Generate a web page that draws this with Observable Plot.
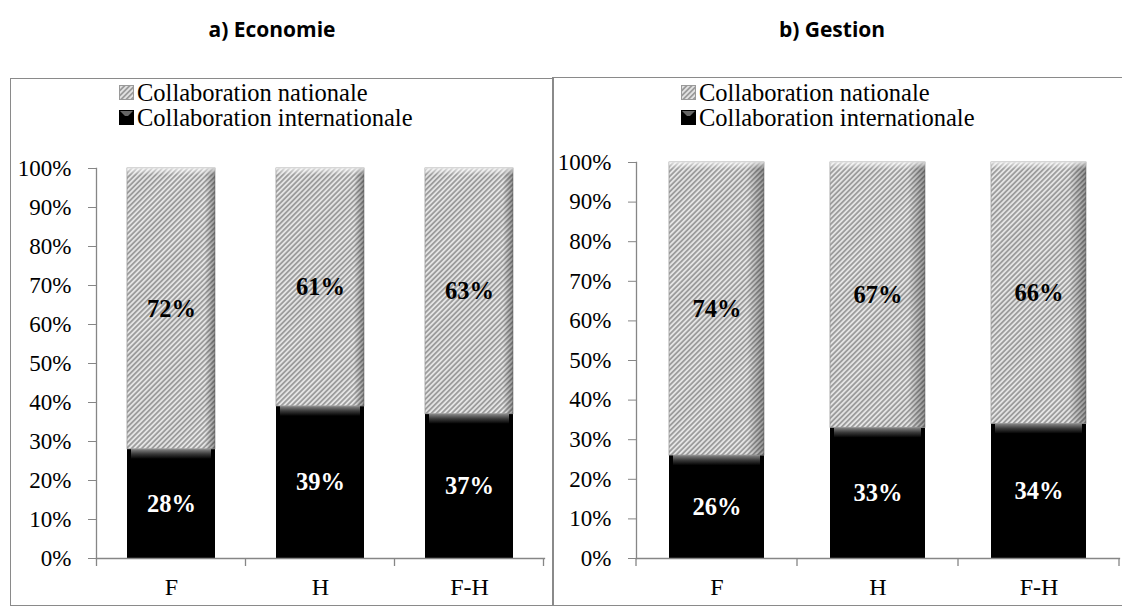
<!DOCTYPE html>
<html><head><meta charset="utf-8">
<script src="https://cdn.jsdelivr.net/npm/d3@7"></script>
<script src="https://cdn.jsdelivr.net/npm/@observablehq/plot@0.6"></script>
<style>
body{margin:0;width:1122px;height:608px;overflow:hidden;background:#fff;position:relative;font-family:"Liberation Serif","Times New Roman",serif;}
.title{position:absolute;top:15px;font-family:"Open Sans",sans-serif;font-weight:700;font-size:21px;line-height:28px;transform:translateX(-50%);white-space:nowrap;color:#000}
.panel{position:absolute;border:1.5px solid #8a8a8a;box-sizing:border-box;}
.legend{position:absolute;font-size:24.5px;line-height:25px;color:#000;white-space:nowrap}
.legend div{display:flex;align-items:center;height:25px}
.legend svg{margin-right:3px}
.chart{position:absolute}
</style></head><body>
<svg width="0" height="0" style="position:absolute">
  <defs>
    <pattern id="hatch" patternUnits="userSpaceOnUse" width="3.6" height="3.6" patternTransform="rotate(45)">
      <rect width="3.6" height="3.6" fill="#e4e4e4"></rect>
      <line x1="0.9" y1="0" x2="0.9" y2="3.6" stroke="#858585" stroke-width="1.35"></line>
    </pattern>
    <linearGradient id="bevelDark" x1="0" y1="0" x2="0" y2="1">
      <stop offset="0" stop-color="#8a8a8a"></stop>
      <stop offset="0.5" stop-color="#3a3a3a"></stop>
      <stop offset="1" stop-color="#000"></stop>
    </linearGradient>
    <linearGradient id="bevelLight" x1="0" y1="0" x2="0" y2="1">
      <stop offset="0" stop-color="#fff" stop-opacity="0.7"></stop>
      <stop offset="1" stop-color="#fff" stop-opacity="0"></stop>
    </linearGradient>
    <linearGradient id="shadeRight" x1="0" y1="0" x2="1" y2="0">
      <stop offset="0" stop-color="#000" stop-opacity="0"></stop>
      <stop offset="1" stop-color="#000" stop-opacity="0.35"></stop>
    </linearGradient>
  </defs>
</svg>
<div id="root"></div>
<script>
const categories = ["F", "H", "F-H"];
const ecoIntl = [28, 39, 37];
const ecoNat = [72, 61, 63];
const gesIntl = [26, 33, 34];
const gesNat = [74, 67, 66];
const yTicks = [0, 10, 20, 30, 40, 50, 60, 70, 80, 90, 100];
const seriesNames = ["Collaboration nationale", "Collaboration internationale"];
const titles = ["a) Economie", "b) Gestion"];

const root = document.getElementById("root");

function addTitle(text, cx) {
  const d = document.createElement("div");
  d.className = "title";
  d.style.left = cx + "px";
  d.textContent = text;
  root.appendChild(d);
}

function addPanel(l, t, w, h) {
  const d = document.createElement("div");
  d.className = "panel";
  Object.assign(d.style, {left: l + "px", top: t + "px", width: w + "px", height: h + "px"});
  root.appendChild(d);
}

function addLegend(l, t) {
  const lg = document.createElement("div");
  lg.className = "legend";
  lg.style.left = l + "px";
  lg.style.top = t + "px";
  const fills = ["url(#hatch)", "#000"];
  seriesNames.forEach((name, i) => {
    const row = document.createElement("div");
    row.innerHTML = `<svg width="15" height="15"><rect x="0.5" y="0.5" width="14" height="14" fill="${fills[i]}" stroke="${i ? "#000" : "#9a9a9a"}" stroke-width="1"></rect>${i ? '<path d="M1,1 L14,1 L9,6 L6,6 Z" fill="#666"></path>' : ''}</svg><span>${name}</span>`;
    lg.appendChild(row);
  });
  root.appendChild(lg);
}

function makeChart(intl, nat, o) {
  const rows = categories.map((c, i) => ({cat: c, intl: intl[i], nat: nat[i]}));
  const chart = Plot.plot({
    width: o.width,
    height: o.height,
    marginLeft: o.ml,
    marginRight: o.mr,
    marginTop: o.mt,
    marginBottom: o.mb,
    style: {fontFamily: '"Liberation Serif","Times New Roman",serif', fontSize: "23px", color: "#000", background: "transparent", overflow: "visible"},
    x: {domain: categories, paddingInner: 0.41, paddingOuter: 0.205, align: 0.5},
    y: {domain: [0, 100]},
    marks: [
      Plot.rectY(rows, {x: "cat", y1: 0, y2: "intl", fill: "#000"}),
      Plot.rectY(rows, {x: "cat", y1: d => d.intl - 2.6, y2: "intl", fill: "url(#bevelDark)", insetLeft: 4, insetRight: 4}),
      Plot.rectY(rows, {x: "cat", y1: "intl", y2: d => d.intl + d.nat, fill: "url(#hatch)", stroke: "#9a9a9a", strokeWidth: 0.8}),
      Plot.rectY(rows, {x: "cat", y1: "intl", y2: d => d.intl + d.nat, fill: "url(#shadeRight)", insetLeft: 78}),
      Plot.rectY(rows, {x: "cat", y1: d => d.intl + d.nat - 1.8, y2: d => d.intl + d.nat, fill: "url(#bevelLight)"}),
      Plot.text(rows, {x: "cat", y: d => d.intl / 2, text: d => d.intl + "%", fill: "#fff", fontWeight: "bold", fontSize: 24.5}),
      Plot.text(rows, {x: "cat", y: d => d.intl + d.nat / 2, text: d => d.nat + "%", fill: "#000", fontWeight: "bold", fontSize: 24.5}),
      Plot.frame({anchor: "left", stroke: "#868686", strokeWidth: 1.3}),
      Plot.frame({anchor: "bottom", stroke: "#868686", strokeWidth: 1.3}),
      Plot.axisY({ticks: yTicks, tickFormat: d => d + "%", tickSize: 8, tickPadding: 17, stroke: "#868686", fill: "#000", fontSize: 23, label: null}),
      Plot.axisX({tickSize: 0, tickPadding: 19, fill: "#000", fontSize: 24, label: null})
    ]
  });
  // boundary ticks between categories, from the band scale
  const xs = chart.scale("x");
  const ys = chart.scale("y");
  const y0 = ys.apply(0);
  const step = xs.step, bw = xs.bandwidth;
  const firstLeft = xs.apply(categories[0]) - (step - bw) / 2;
  const bounds = [firstLeft].concat(categories.map(c => xs.apply(c) - (step - bw) / 2 + step));
  const g = d3.select(chart).append("g");
  g.selectAll("line").data(bounds).join("line")
    .attr("x1", d => d).attr("x2", d => d)
    .attr("y1", y0).attr("y2", y0 + 8)
    .attr("stroke", "#868686").attr("stroke-width", 1.3);
  chart.classList.add("chart");
  chart.style.left = o.left + "px";
  chart.style.top = o.top + "px";
  chart.style.position = "absolute";
  root.appendChild(chart);
}

addTitle(titles[0], 272);
addTitle(titles[1], 832);
addPanel(10, 78, 544, 528);
addPanel(552, 77, 580, 529);
addLegend(119, 80);
addLegend(681, 80);

makeChart(ecoIntl, ecoNat, {left: 11, top: 79, width: 542, height: 529, ml: 85, mr: 9, mt: 89, mb: 50});
makeChart(gesIntl, gesNat, {left: 553, top: 78, width: 569, height: 530, ml: 83, mr: 3, mt: 84, mb: 50});
</script>
</body></html>
